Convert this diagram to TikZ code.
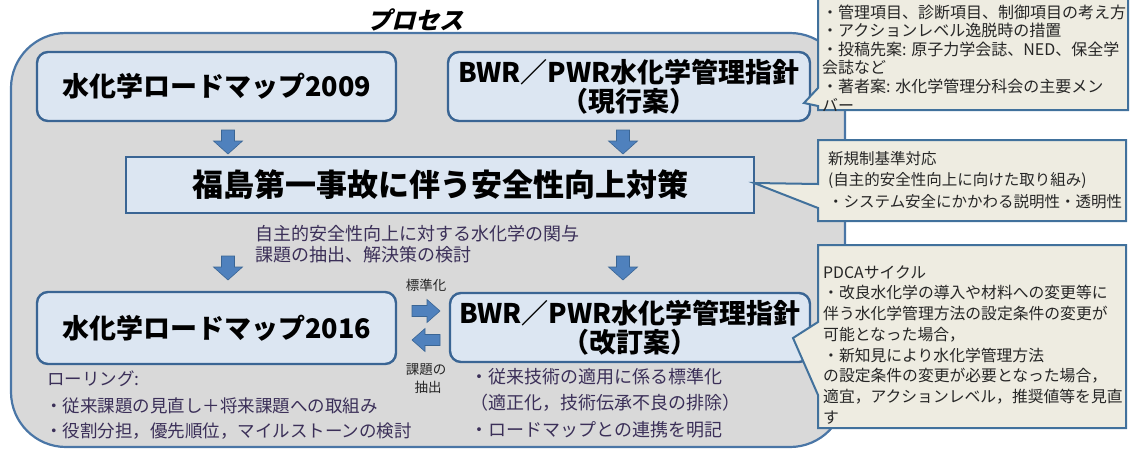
\documentclass[tikz,border=0pt]{standalone}
\usepackage{fontspec}
\newfontfamily\jp{Noto Sans CJK JP}[BoldFont={Noto Sans CJK JP Black}]
\newfontfamily\jpsl{Noto Sans CJK JP Black}[FakeSlant=0.25]
\definecolor{pgray}{HTML}{D9D9D9}
\definecolor{pborder}{HTML}{4A76A6}
\definecolor{bfill}{HTML}{DCE6F2}
\definecolor{bborder}{HTML}{3A6594}
\definecolor{cfill}{HTML}{EEECE1}
\definecolor{cborder}{HTML}{41719C}
\definecolor{afill}{HTML}{4F81BD}
\definecolor{aborder}{HTML}{3A6594}
\definecolor{subtext}{HTML}{3B2F58}
\definecolor{ctext}{HTML}{262626}
\begin{document}
\begin{tikzpicture}[x=1pt,y=-1pt,
  panel/.style={draw=pborder, line width=2.2pt, fill=pgray, rounded corners=55pt},
  rbox/.style={draw=bborder, line width=2.4pt, fill=bfill, rounded corners=11pt, inner sep=0pt, align=center,
     font=\jp\bfseries\fontsize{27}{29}\selectfont},
  sbox/.style={draw=bborder, line width=2.4pt, fill=bfill, inner sep=0pt, align=center,
     font=\jp\bfseries\fontsize{31}{33}\selectfont},
  callout/.style={draw=cborder, line width=2pt, fill=cfill, line join=miter},
  arrowshape/.style={fill=afill, draw=aborder, line width=0.6pt},
  sub/.style={inner sep=0pt, anchor=west, text=subtext, font=\jp\fontsize{18}{20}\selectfont},
  small/.style={inner sep=0pt, text=ctext, font=\jp\fontsize{13.5}{15}\selectfont},
  ctxt/.style={inner sep=0pt, anchor=west, text=ctext},
  downarr/.pic={\path[arrowshape] (-6.5,0) -- (6.5,0) -- (6.5,11) -- (14.5,11) -- (0,24) -- (-14.5,11) -- (-6.5,11) -- cycle;},
  rightarr/.pic={\path[arrowshape] (0,-5.5) -- (15,-5.5) -- (15,-11.5) -- (28,0) -- (15,11.5) -- (15,5.5) -- (0,5.5) -- cycle;},
  leftarr/.pic={\path[arrowshape] (0,-5.5) -- (-15,-5.5) -- (-15,-11.5) -- (-28,0) -- (-15,11.5) -- (-15,5.5) -- (0,5.5) -- cycle;}
]
\useasboundingbox (0,0) rectangle (1131,450);

% background panel
\path[panel] (11,33) rectangle (845,447);
\node[inner sep=0pt, font=\jpsl\fontsize{24}{26}\selectfont] (proc) at (415,20) {プロセス};

% boxes
\node[rbox, minimum width=359pt, minimum height=69pt] (rm09) at (216.5,86.5) {水化学ロードマップ2009};
\node[rbox, minimum width=362pt, minimum height=69pt] (gl1) at (629,86.5) {BWR／PWR水化学管理指針\\（現行案）};
\node[sbox, minimum width=628pt, minimum height=56pt] (fk) at (440,185) {福島第一事故に伴う安全性向上対策};
\node[rbox, minimum width=359pt, minimum height=72pt] (rm16) at (216.5,328) {水化学ロードマップ2016};
\node[rbox, minimum width=360pt, minimum height=69pt] (gl2) at (630,327.5) {BWR／PWR水化学管理指針\\（改訂案）};

% block arrows
\pic (a1) at (228,130) {downarr};
\pic (a2) at (623,130) {downarr};
\pic (a3) at (228,256) {downarr};
\pic (a4) at (623,256) {downarr};
\pic (a5) at (412,311) {rightarr};
\pic (a6) at (440,340) {leftarr};

% labels in panel
\node[sub] (s1) at (255,234) {自主的安全性向上に対する水化学の関与};
\node[sub] (s2) at (255,255) {課題の抽出、解決策の検討};
\node[small] (std) at (426,285) {標準化};
\node[small] (ext1) at (426,370) {課題の};
\node[small] (ext2) at (428,387) {抽出};
\node[sub, font=\jp\fontsize{17.5}{20}\selectfont] (r1) at (47,379) {ローリング:};
\node[sub, font=\jp\fontsize{17.5}{20}\selectfont] (r2) at (45,406) {・従来課題の見直し＋将来課題への取組み};
\node[sub, font=\jp\fontsize{17.5}{20}\selectfont] (r3) at (45,431) {・役割分担，優先順位，マイルストーンの検討};
\node[sub] (g1) at (470,377) {・従来技術の適用に係る標準化};
\node[sub] (g2) at (470,403) {（適正化，技術伝承不良の排除）};
\node[sub] (g3) at (470,430) {・ロードマップとの連携を明記};

% callouts
\path[callout] (818,-5) -- (1128,-5) -- (1128,110) -- (818,110) -- (818,106) -- (804,103) -- (818,88) -- cycle;
\path[callout] (818,140) -- (1126,140) -- (1126,221) -- (818,221) -- (818,208) -- (754,183) -- (818,184) -- cycle;
\path[callout] (818,245) -- (1126,245) -- (1126,428) -- (818,428) -- (818,395) -- (793,338) -- (818,322) -- cycle;

\foreach \t [count=\i] in {{・管理項目、診断項目、制御項目の考え方},{・アクションレベル逸脱時の措置},{・投稿先案: 原子力学会誌、NED、保全学},{会誌など},{・著者案: 水化学管理分科会の主要メン},{バー}}
  \node[ctxt, font=\jp\fontsize{16}{18}\selectfont] (ca\i) at (822,{12+18.6*(\i-1)}) {\t};

\foreach \t [count=\i] in {{新規制基準対応},{(自主的安全性向上に向けた取り組み)},{・システム安全にかかわる説明性・透明性}}
  \node[ctxt, font=\jp\fontsize{15.5}{18}\selectfont] (cb\i) at (828,{159+21.5*(\i-1)}) {\t};

\foreach \t [count=\i] in {{PDCAサイクル},{・改良水化学の導入や材料への変更等に},{伴う水化学管理方法の設定条件の変更が},{可能となった場合，},{・新知見により水化学管理方法},{の設定条件の変更が必要となった場合，},{適宜，アクションレベル，推奨値等を見直},{す}}
  \node[ctxt, font=\jp\fontsize{15.8}{18}\selectfont] (cc\i) at (823,{272+20.8*(\i-1)}) {\t};
\end{tikzpicture}
\end{document}
